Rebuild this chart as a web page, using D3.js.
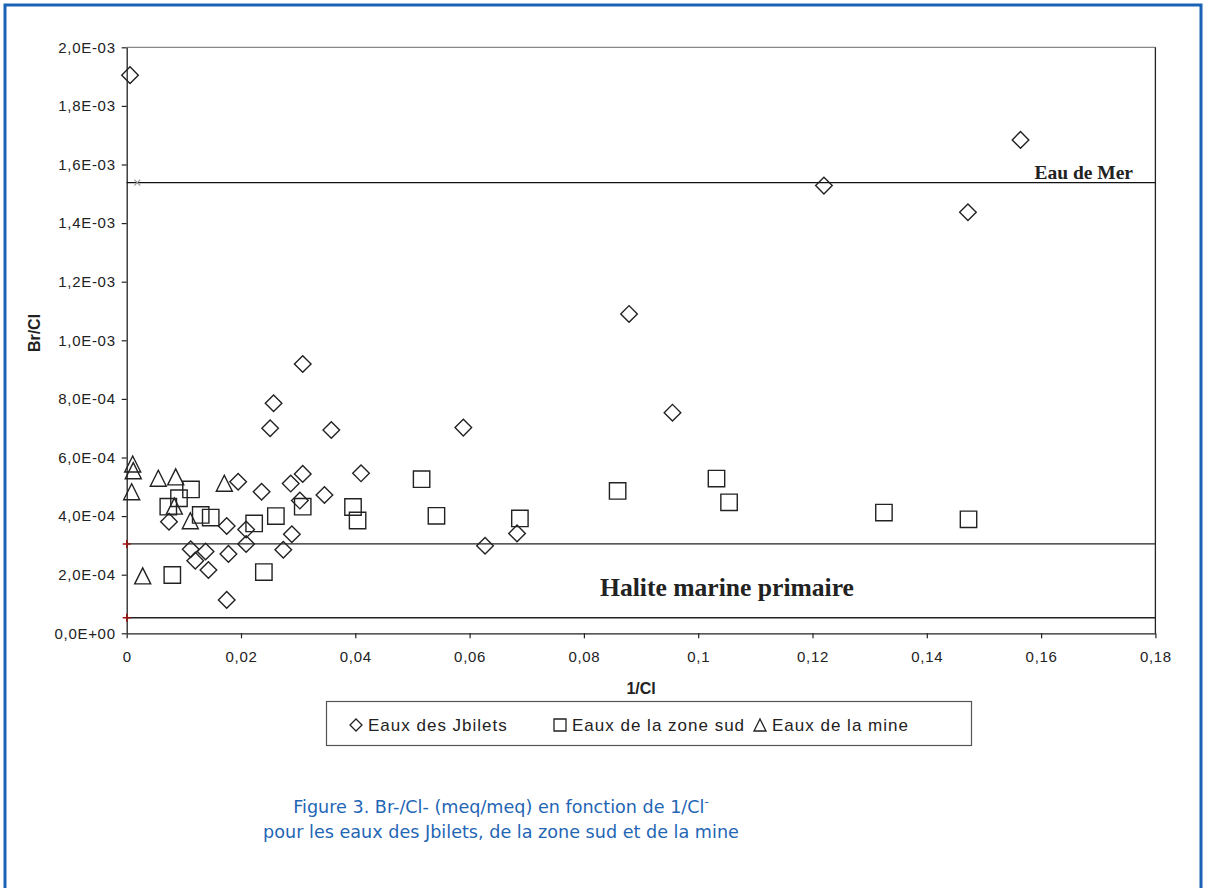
<!doctype html>
<html lang="fr">
<head>
<meta charset="utf-8">
<title>Br/Cl en fonction de 1/Cl</title>
<script src="https://d3js.org/d3.v7.min.js"></script>
<style>
  body { margin: 0; background: #fff; }
</style>
</head>
<body>
<div id="chart"></div>
<script>
// Eaux des Jbilets (diamonds): 1/Cl, Br/Cl
var jbiletsX = [0.00058, 0.1564, 0.1220, 0.1472, 0.0879, 0.0955, 0.0589, 0.0308, 0.0257, 0.0251,
  0.0358, 0.0410, 0.0308, 0.0287, 0.0195, 0.0236, 0.0346, 0.0303, 0.0074, 0.0175,
  0.0209, 0.0289, 0.0209, 0.0274, 0.0112, 0.0138, 0.0178, 0.0120, 0.0143, 0.0175,
  0.0683, 0.0627];
var jbiletsY = [1.905e-3, 1.684e-3, 1.528e-3, 1.437e-3, 1.090e-3, 7.53e-4, 7.02e-4, 9.19e-4, 7.85e-4, 7.00e-4,
  6.94e-4, 5.46e-4, 5.44e-4, 5.11e-4, 5.17e-4, 4.83e-4, 4.72e-4, 4.53e-4, 3.81e-4, 3.66e-4,
  3.54e-4, 3.38e-4, 3.05e-4, 2.85e-4, 2.87e-4, 2.79e-4, 2.71e-4, 2.48e-4, 2.16e-4, 1.14e-4,
  3.41e-4, 2.99e-4];

// Eaux de la zone sud (squares)
var sudX = [0.01125, 0.00915, 0.00728, 0.01295, 0.0147, 0.00798, 0.0223, 0.0261, 0.0308, 0.0396,
  0.0404, 0.0240, 0.0516, 0.0542, 0.0688, 0.0859, 0.1032, 0.1054, 0.1325, 0.1473];
var sudY = [4.91e-4, 4.61e-4, 4.32e-4, 4.04e-4, 3.95e-4, 1.99e-4, 3.75e-4, 4.00e-4, 4.32e-4, 4.31e-4,
  3.85e-4, 2.09e-4, 5.26e-4, 4.01e-4, 3.92e-4, 4.86e-4, 5.28e-4, 4.47e-4, 4.12e-4, 3.89e-4];

// Eaux de la mine (triangles)
var mineX = [0.00105, 0.00115, 0.00087, 0.00553, 0.00857, 0.01708, 0.00833, 0.01113, 0.0028];
var mineY = [5.78e-4, 5.55e-4, 4.83e-4, 5.29e-4, 5.34e-4, 5.12e-4, 4.34e-4, 3.84e-4, 1.96e-4];

// reference lines
var merX = [0, 0.18], merY = [1.538e-3, 1.538e-3], merMarkX = 0.00185;
var haliteHautY = 3.05e-4, haliteBasY = 0.53e-4;

var xTicks = [0, 0.02, 0.04, 0.06, 0.08, 0.1, 0.12, 0.14, 0.16, 0.18];
var yTicks = [0, 2e-4, 4e-4, 6e-4, 8e-4, 1e-3, 1.2e-3, 1.4e-3, 1.6e-3, 1.8e-3, 2e-3];
var legendNames = ["Eaux des Jbilets", "Eaux de la zone sud", "Eaux de la mine"];

var W = 1206, H = 888;
var sans = "'Liberation Sans', Arial, sans-serif";
var serif = "'Liberation Serif', 'Times New Roman', serif";
var svg = d3.select("#chart").append("svg").attr("width", W).attr("height", H)
  .attr("font-family", sans);

// blue page frame
svg.append("rect").attr("x", 5).attr("y", 5).attr("width", 1196).attr("height", 900)
  .attr("fill", "none").attr("stroke", "#1a62b3").attr("stroke-width", 3);

var x = d3.scaleLinear().domain([0, 0.18]).range([126.7, 1155.4]);
var y = d3.scaleLinear().domain([0, 2e-3]).range([633.3, 47.3]);

function sciFr(v) {
  if (v === 0) return "0,0E+00";
  var e = Math.floor(Math.log10(v) + 1e-9);
  var m = v / Math.pow(10, e);
  return m.toFixed(1).replace(".", ",") + "E" + (e < 0 ? "-" : "+") + String(Math.abs(e)).padStart(2, "0");
}

// plot frame (top grey, right black)
svg.append("line").attr("x1", x(0)).attr("x2", x(0.18)).attr("y1", y(2e-3)).attr("y2", y(2e-3))
  .attr("stroke", "#888").attr("stroke-width", 1.3);
svg.append("line").attr("x1", x(0.18)).attr("x2", x(0.18)).attr("y1", y(2e-3)).attr("y2", y(0))
  .attr("stroke", "#222").attr("stroke-width", 1.3);

// axes
var yAxis = svg.append("g").attr("transform", "translate(" + x(0) + ",0)")
  .call(d3.axisLeft(y).tickValues(yTicks).tickFormat(sciFr).tickSize(5).tickPadding(6).tickSizeOuter(0));
var xAxis = svg.append("g").attr("transform", "translate(0," + y(0) + ")")
  .call(d3.axisBottom(x).tickValues(xTicks).tickFormat(function(v) { return String(+v.toFixed(2)).replace(".", ","); })
    .tickSize(5).tickPadding(13).tickSizeOuter(0));
[yAxis, xAxis].forEach(function(a) {
  a.select(".domain").attr("stroke", "#222").attr("stroke-width", 1.3);
  a.selectAll(".tick line").attr("stroke", "#222").attr("stroke-width", 1.2);
  a.selectAll(".tick text").attr("font-size", 15).attr("fill", "#222")
    .attr("font-family", sans).style("letter-spacing", "0.7px");
});

svg.append("text").attr("transform", "translate(40,333) rotate(-90)").attr("text-anchor", "middle")
  .attr("font-size", 16).attr("font-weight", "bold").attr("fill", "#222").text("Br/Cl");
svg.append("text").attr("x", x(0.09)).attr("y", 694).attr("text-anchor", "middle")
  .attr("font-size", 16).attr("font-weight", "bold").attr("fill", "#222").text("1/Cl");

// reference lines
svg.append("line").attr("x1", x(merX[0])).attr("x2", x(merX[1])).attr("y1", y(merY[0])).attr("y2", y(merY[1]))
  .attr("stroke", "#111").attr("stroke-width", 1.3);
[haliteHautY, haliteBasY].forEach(function(v) {
  svg.append("line").attr("x1", x(0)).attr("x2", x(0.18)).attr("y1", y(v)).attr("y2", y(v))
    .attr("stroke", "#222").attr("stroke-width", 1.3);
  svg.append("path").attr("d", "M-4,0H4M0,-4V4").attr("transform", "translate(" + x(0) + "," + y(v) + ")")
    .attr("stroke", "#a01010").attr("stroke-width", 1.4);
});
svg.append("path").attr("d", "M-3,-3L3,3M-3,3L3,-3").attr("transform", "translate(" + x(merMarkX) + "," + y(merY[0]) + ")")
  .attr("stroke", "#999").attr("stroke-width", 1.1);

svg.append("text").attr("x", 1133).attr("y", 179).attr("text-anchor", "end")
  .attr("font-family", serif).attr("font-weight", "bold").attr("fill", "#222")
  .attr("font-size", 19.5).text("Eau de Mer");
svg.append("text").attr("x", 727).attr("y", 596).attr("text-anchor", "middle")
  .attr("font-family", serif).attr("font-weight", "bold").attr("fill", "#222")
  .attr("font-size", 25.6).text("Halite marine primaire");

// markers
function marker(shape, r) {
  if (shape === "diamond") return "M0," + (-r) + "L" + r + ",0L0," + r + "L" + (-r) + ",0Z";
  if (shape === "square") return "M" + (-r) + "," + (-r) + "h" + 2 * r + "v" + 2 * r + "h" + (-2 * r) + "Z";
  return "M0," + (-r) + "L" + r + "," + r + "L" + (-r) + "," + r + "Z";
}
var series = [
  { shape: "diamond", xs: jbiletsX, ys: jbiletsY, r: 8.3 },
  { shape: "square", xs: sudX, ys: sudY, r: 8.2 },
  { shape: "triangle", xs: mineX, ys: mineY, r: 8 }
];
series.forEach(function(s) {
  svg.append("g").selectAll("path").data(s.xs).enter().append("path")
    .attr("d", marker(s.shape, s.r))
    .attr("transform", function(d, i) { return "translate(" + x(d) + "," + y(s.ys[i]) + ")"; })
    .attr("fill", "none").attr("stroke", "#222").attr("stroke-width", 1.4);
});

// legend
var lg = svg.append("g");
lg.append("rect").attr("x", 326.5).attr("y", 701.5).attr("width", 645).attr("height", 44)
  .attr("fill", "#fff").attr("stroke", "#555").attr("stroke-width", 1.2);
var legX = [356, 560, 760], legR = [6, 6, 6];
legendNames.forEach(function(n, i) {
  lg.append("path").attr("d", marker(series[i].shape, legR[i]))
    .attr("transform", "translate(" + legX[i] + ",725)")
    .attr("fill", "none").attr("stroke", "#222").attr("stroke-width", 1.3);
  lg.append("text").attr("x", legX[i] + 12).attr("y", 731).attr("font-size", 17).attr("fill", "#222")
    .style("letter-spacing", "1px").text(n);
});

// caption
var cap = svg.append("g").attr("font-family", "'DejaVu Sans', Verdana, sans-serif").attr("font-size", 17.6)
  .attr("fill", "#1f66b5");
var t1 = cap.append("text").attr("x", 501).attr("y", 813).attr("text-anchor", "middle");
t1.append("tspan").text("Figure 3. Br-/Cl- (meq/meq) en fonction de 1/Cl");
t1.append("tspan").attr("dy", -7).attr("font-size", 12).text("-");
cap.append("text").attr("x", 501).attr("y", 838).attr("text-anchor", "middle")
  .text("pour les eaux des Jbilets, de la zone sud et de la mine");
</script>
</body>
</html>
